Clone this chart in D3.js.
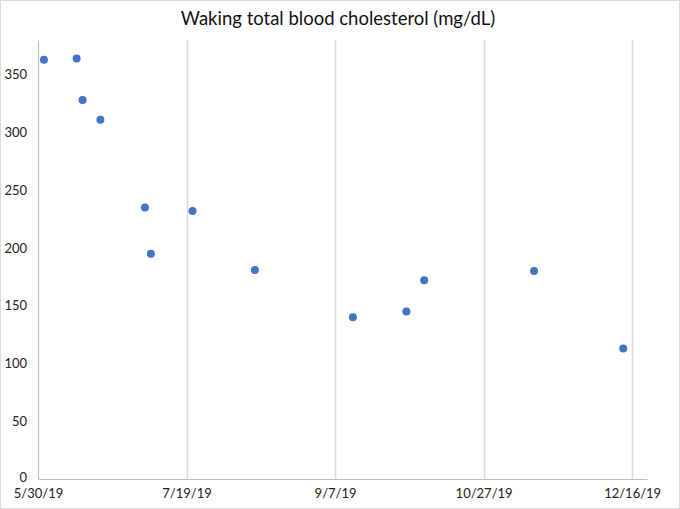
<!DOCTYPE html>
<html>
<head>
<meta charset="utf-8">
<script src="https://cdn.jsdelivr.net/npm/d3@7/dist/d3.min.js"></script>
<style>
  html, body { margin: 0; padding: 0; background: #fff; }
  svg { display: block; }
  text { font-family: Lato, "Open Sans", sans-serif; }
</style>
</head>
<body>
<script>
const title = "Waking total blood cholesterol (mg/dL)";
const dates = ["2019-06-01","2019-06-12","2019-06-14","2019-06-20","2019-07-05","2019-07-07",
               "2019-07-21","2019-08-11","2019-09-13","2019-10-01","2019-10-07","2019-11-13","2019-12-13"];
const values = [363, 364, 328, 311, 235, 195, 232, 181, 140, 145, 172, 180, 113];
const xTickLabels = ["5/30/19","7/19/19","9/7/19","10/27/19","12/16/19"];
const yTicks = [0, 50, 100, 150, 200, 250, 300, 350];

const W = 680, H = 509;
const parse = d3.timeParse("%Y-%m-%d");
const fmtIn = d3.timeParse("%m/%d/%y");

const svg = d3.select("body").append("svg").attr("width", W).attr("height", H);
svg.append("rect").attr("x", 0.5).attr("y", 0.5).attr("width", W - 1).attr("height", H - 1)
  .attr("fill", "#fff").attr("stroke", "#d9d9d9");

const x = d3.scaleTime()
  .domain([fmtIn("5/30/19"), d3.timeDay.offset(fmtIn("12/16/19"), 5)])
  .range([38, 647]);
const y = d3.scaleLinear().domain([0, 380]).range([479, 40]);

const tickDates = xTickLabels.map(fmtIn);

// vertical gridlines
svg.append("g").selectAll("line").data(tickDates.slice(1)).join("line")
  .attr("x1", d => Math.round(x(d)) + 0.5).attr("x2", d => Math.round(x(d)) + 0.5)
  .attr("y1", y.range()[1]).attr("y2", y(0))
  .attr("stroke", "#d9d9d9").attr("stroke-width", 1.5);

// x axis
const xAxis = d3.axisBottom(x).tickValues(tickDates)
  .tickFormat((d, i) => xTickLabels[i]).tickSize(0).tickPadding(10);
const gx = svg.append("g").attr("transform", `translate(0,${y(0)})`).call(xAxis);
gx.select(".domain").attr("stroke", "#bfbfbf").attr("stroke-width", 1.2);
gx.selectAll("text").attr("font-size", 13).attr("fill", "#222");

// y axis
const yAxis = d3.axisLeft(y).tickValues(yTicks).tickSize(0).tickPadding(11);
const gy = svg.append("g").attr("transform", `translate(38,0)`).call(yAxis);
gy.select(".domain").attr("stroke", "#bfbfbf").attr("stroke-width", 1.2);
gy.selectAll("text").attr("font-size", 13).attr("fill", "#222");
gy.selectAll(".tick").filter(d => d === 0).select("text").attr("dy", "0.2em");

// points
svg.append("g").selectAll("circle").data(dates.map((d, i) => ({d: parse(d), v: values[i]})))
  .join("circle")
  .attr("cx", d => x(d.d)).attr("cy", d => y(d.v)).attr("r", 4)
  .attr("fill", "#4472c4");

// title
svg.append("text").attr("x", 338).attr("y", 25).attr("text-anchor", "middle")
  .attr("font-size", 18.5).attr("fill", "#111").text(title);
</script>
</body>
</html>
